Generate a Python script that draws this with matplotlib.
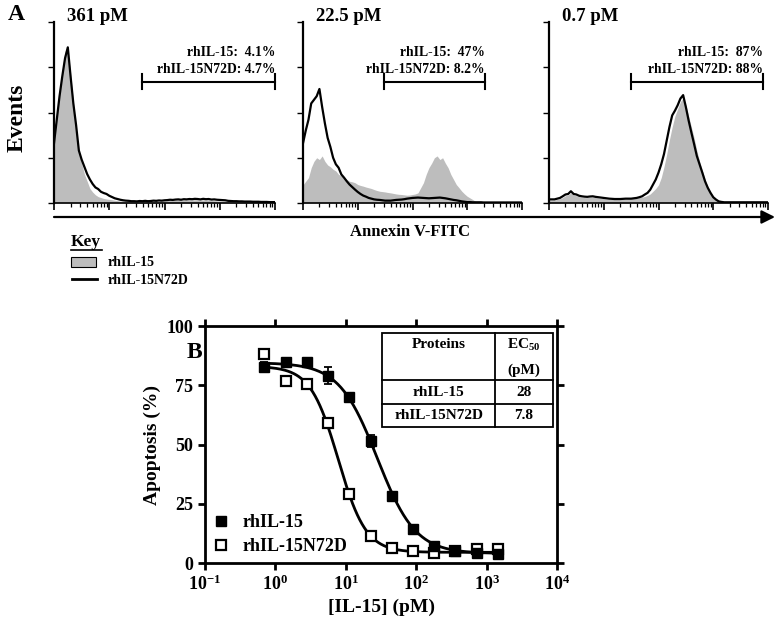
import numpy as np
import matplotlib
matplotlib.use('Agg')
import matplotlib.pyplot as plt
from matplotlib.patches import Rectangle
from matplotlib.lines import Line2D
from matplotlib.ticker import LogLocator, NullLocator, FixedLocator

plt.rcParams['font.family'] = ['Liberation Serif', 'DejaVu Serif']
plt.rcParams['font.weight'] = 'bold'
plt.rcParams['axes.labelweight'] = 'bold'
plt.rcParams['mathtext.default'] = 'regular'

# ---------------- panel A : flow histograms (Annexin V-FITC, 4 log decades)
panel_titles = ['361 pM', '22.5 pM', '0.7 pM']
log_channel = np.arange(81) * 0.05          # channel position in log10 decades

hist_wt = [  # rhIL-15 (grey fill), % of axis height
    [38, 48, 62, 74, 84, 84, 72, 56, 40, 28,
     22, 16, 12, 8, 6, 4.5, 3.5, 3, 2.5, 2.2,
     2, 1.8, 1.5, 1.3, 1.1, 1.0, 0.9, 0.8, 0.8, 0.7,
     0.7, 0.8, 0.7, 0.8, 0.8, 0.9, 0.9, 1.0, 1.0, 1.1,
     1.2, 1.3, 1.4, 1.4, 1.5, 1.6, 1.5, 1.7, 1.6, 1.8,
     1.7, 1.8, 1.7, 1.6, 1.7, 1.6, 1.5, 1.4, 1.3, 1.2,
     1.1, 1.0, 0.9, 0.8, 0.7, 0.6, 0.6, 0.5, 0.5, 0.5,
     0.4, 0.4, 0.4, 0.4, 0.3, 0.3, 0.3, 0.3, 0.3, 0.3, 0.3],
    [10, 12, 14, 19.5, 23, 25, 24, 26, 23, 21,
     20, 18.6, 17.7, 15.8, 15, 14, 13, 12, 11.7, 11.2,
     10.2, 9.7, 9.3, 8.8, 8.4, 8, 7.4, 6.9, 6.5, 6.3,
     6.1, 5.8, 5.6, 5.3, 5.0, 4.8, 4.7, 4.5, 4.3, 4.4,
     4.7, 5.0, 5.6, 8.4, 11.2, 15.8, 19.5, 22, 25, 26,
     24, 25, 22, 19.5, 15.8, 13, 10.2, 8.4, 6.5, 5,
     3.7, 2.8, 1.9, 0.9, 0.3, 0.3, 0.3, 0.3, 0.3, 0.3,
     0.3, 0.3, 0.3, 0.3, 0.3, 0.3, 0.3, 0.3, 0.3, 0.3, 0.3],
    [1.5, 1.5, 1.6, 2, 2.4, 3, 4, 4.5, 5.5, 4.5,
     4, 3.5, 3.2, 3, 3, 3.2, 3.2, 3, 2.8, 2.6,
     2.4, 2.2, 2, 2, 2, 2, 2.1, 2.2, 2.2, 2.3,
     2.4, 2.6, 2.8, 3, 3.2, 3.6, 4.2, 5, 6.5, 8,
     10, 14, 20, 27, 35, 42, 48, 52, 56, 58,
     54, 48, 42, 36, 29, 23, 18, 13, 9, 6,
     3.5, 2, 1, 0.5, 0.3, 0.3, 0.3, 0.3, 0.3, 0.3,
     0.3, 0.3, 0.3, 0.3, 0.3, 0.3, 0.3, 0.3, 0.3, 0.3, 0.3],
]
hist_mut = [  # rhIL-15N72D (black line)
    [33, 46, 59, 70, 80, 86, 70, 55, 43, 29,
     24, 20, 16, 13, 10.5, 8.6, 7.7, 6.2, 5.5, 5,
     4, 3.3, 2.6, 2.2, 1.8, 1.5, 1.3, 1.2, 1.0, 1.0,
     0.9, 1.1, 1.0, 1.2, 1.0, 1.1, 1.3, 1.2, 1.4, 1.3,
     1.5, 1.6, 1.8, 1.7, 1.9, 2.0, 1.8, 2.1, 2.0, 2.2,
     2.1, 2.3, 2.2, 2.0, 2.3, 2.1, 2.2, 1.9, 2.0, 1.8,
     1.7, 1.6, 1.5, 1.2, 1.1, 1.0, 1.0, 0.9, 0.9, 0.8,
     0.8, 0.8, 0.7, 0.7, 0.7, 0.6, 0.6, 0.6, 0.5, 0.5, 0.5],
    [33, 40, 46, 55, 57, 59, 63, 53, 44, 36,
     31, 25, 21.4, 19.5, 15.8, 14, 12, 10.2, 8.8, 7.4,
     6.1, 5, 4.1, 3.5, 2.8, 2.4, 2.0, 1.8, 1.7, 1.5,
     1.3, 1.3, 1.3, 1.5, 1.7, 1.8, 1.9, 2.1, 2.4, 2.6,
     2.8, 2.9, 3.0, 2.9, 2.8, 2.7, 2.6, 2.7, 2.8, 2.9,
     3.0, 2.8, 2.6, 2.3, 2.0, 1.7, 1.5, 1.2, 0.9, 0.7,
     0.5, 0.5, 0.4, 0.4, 0.4, 0.4, 0.3, 0.3, 0.3, 0.3,
     0.3, 0.3, 0.3, 0.3, 0.3, 0.3, 0.3, 0.3, 0.3, 0.3, 0.3],
    [2, 2, 2, 2.4, 2.8, 3.7, 4.7, 5, 6.5, 5,
     4.7, 4, 3.7, 3.5, 3.4, 3.6, 3.7, 3.4, 3.2, 3.0,
     2.8, 2.6, 2.4, 2.3, 2.2, 2.2, 2.2, 2.3, 2.4, 2.4,
     2.4, 2.6, 2.8, 3.2, 3.7, 4.7, 5.6, 7.4, 10.2, 13,
     16.8, 21.4, 27, 34.5, 42, 48.4, 51, 54, 57.7, 59.6,
     53, 45.6, 39, 32.6, 26, 21.4, 16.8, 12, 8.4, 5.6,
     3.2, 1.9, 0.9, 0.6, 0.4, 0.4, 0.4, 0.4, 0.4, 0.4,
     0.4, 0.4, 0.4, 0.4, 0.4, 0.4, 0.4, 0.4, 0.4, 0.4, 0.4],
]
gate_lo = [1.6, 1.48, 1.49]     # gate bracket, log10 decades
gate_hi = [4.0, 3.32, 3.91]
pct_wt = ['4.1%', '47%', '87%']
pct_mut = ['4.7%', '8.2%', '88%']

# ---------------- panel B : dose response
conc_pM = [0.7, 1.4, 2.8, 5.6, 11.25, 22.5, 45, 90, 180, 361, 722, 1444]
apop_wt = [82.9, 84.6, 84.6, 79, 70, 51.3, 28.4, 14.3, 7.3, 4.9, 4.2, 3.9]
apop_wt_err = [2, 1, 1, 3.5, 1, 2.5, 1, 1, 0.8, 0.5, 0.5, 0.5]
apop_mut = [88.2, 77, 75.6, 59, 29.2, 11.5, 6.3, 4.9, 4.2, 4.9, 5.9, 5.9]
# 4-parameter logistic fits: top, bottom, EC50, hill
fit_wt = (84.5, 4.0, 28, 1.6)
fit_mut = (83, 4.5, 7.8, 2.2)
tbl_proteins = ['rhIL-15', 'rhIL-15N72D']
tbl_ec50 = ['28', '7.8']

W, H = 775, 630
fig = plt.figure(figsize=(W / 100, H / 100), dpi=100)


def px_axes(l, t, r, b):
    return fig.add_axes([l / W, 1 - b / H, (r - l) / W, (b - t) / H])


def logistic(x, top, bottom, ec50, hill):
    return bottom + (top - bottom) / (1 + (x / ec50) ** hill)


xs = 10 ** log_channel
for i, (l, r) in enumerate([(54, 275), (303, 522), (549, 768)]):
    ax = px_axes(l, 22, r, 203)
    ax.fill_between(xs, hist_wt[i], color='#bdbdbd', lw=0)
    ax.plot(xs, hist_mut[i], color='k', lw=1.6)
    ax.set_xscale('log')
    ax.set_xlim(1, 1e4)
    ax.set_ylim(0, 100)
    for s in ['top', 'right']:
        ax.spines[s].set_visible(False)
    ax.spines['left'].set_linewidth(1.6)
    ax.spines['bottom'].set_linewidth(1.2)
    ax.set_yticks([0, 25, 50, 75, 100])
    ax.set_yticklabels([])
    ax.xaxis.set_minor_locator(LogLocator(subs=range(2, 10)))
    ax.tick_params(axis='y', direction='out', length=4, width=1)
    ax.tick_params(axis='x', which='major', direction='out', length=5, width=1.2,
                   labelbottom=False)
    ax.tick_params(axis='x', which='minor', direction='out', length=3, width=0.9)
    ax.text(0.06, 0.983, panel_titles[i], transform=ax.transAxes, fontsize=13.5,
            va='bottom', ha='left')
    # gate bracket
    g0, g1 = 10 ** gate_lo[i], 10 ** gate_hi[i]
    gy = 67
    ax.plot([g0, g1], [gy, gy], color='k', lw=1.5, clip_on=False)
    ax.plot([g0, g0], [gy - 4, gy + 4], color='k', lw=1.5, clip_on=False)
    ax.plot([g1, g1], [gy - 4, gy + 4], color='k', lw=1.5, clip_on=False)
    ax.text(g1, 83, 'rhIL-15:  ' + pct_wt[i], ha='right', va='center', fontsize=9.8)
    ax.text(g1, 74, 'rhIL-15N72D: ' + pct_mut[i], ha='right', va='center', fontsize=9.8)

# overlay for labels / key
ov = fig.add_axes([0, 0, 1, 1])
ov.set_xlim(0, W)
ov.set_ylim(H, 0)
ov.axis('off')
ov.annotate('', xy=(775, 217), xytext=(54, 217),
            arrowprops=dict(arrowstyle='-|>', lw=1.6, color='k', mutation_scale=20,
                            shrinkA=0, shrinkB=0))
ov.text(410, 232, 'Annexin V-FITC', ha='center', va='center', fontsize=12)
ov.text(17, 118, 'Events', ha='center', va='center', rotation=90, fontsize=17)
ov.text(16, 15, 'A', ha='center', va='center', fontsize=17)
ov.text(194, 353, 'B', ha='center', va='center', fontsize=17)
ov.text(71, 242, 'Key', ha='left', va='center', fontsize=12.5)
ov.plot([71, 102], [250, 250], color='k', lw=1.2)
ov.add_patch(Rectangle((71, 257), 25, 10, facecolor='#bdbdbd', edgecolor='k', lw=0.8))
ov.plot([72, 97], [279, 279], color='k', lw=2)
ov.text(108, 262, 'rhIL-15', ha='left', va='center', fontsize=10)
ov.text(108, 280, 'rhIL-15N72D', ha='left', va='center', fontsize=10)

# ---------------- panel B axes
axB = px_axes(205, 326, 557, 563)
xfit = np.logspace(np.log10(conc_pM[0]), np.log10(conc_pM[-1]), 300)
axB.plot(xfit, logistic(xfit, *fit_wt), color='k', lw=2)
axB.plot(xfit, logistic(xfit, *fit_mut), color='k', lw=2)
axB.errorbar(conc_pM, apop_wt, yerr=apop_wt_err, fmt='s', color='k', ms=7,
             elinewidth=1.3, capsize=3, capthick=1.3)
axB.plot(conc_pM, apop_mut, 's', mfc='white', mec='k', mew=1.6, ms=7.5)
axB.set_xscale('log')
axB.set_xlim(0.1, 1e4)
axB.set_ylim(0, 100)
axB.xaxis.set_major_locator(FixedLocator([0.1, 1, 10, 100, 1000, 10000]))
axB.xaxis.set_minor_locator(NullLocator())
axB.set_xticklabels(['$10^{-1}$', '$10^{0}$', '$10^{1}$', '$10^{2}$', '$10^{3}$', '$10^{4}$'])
axB.set_yticks([0, 25, 50, 75, 100])
for s in axB.spines.values():
    s.set_linewidth(2)
axB.tick_params(which='major', direction='out', length=5, width=2, top=True, right=True,
                labelsize=13)
axB.set_xlabel('[IL-15] (pM)', fontsize=14, labelpad=3)
axB.set_ylabel('Apoptosis (%)', fontsize=14, labelpad=4)

handles = [Line2D([], [], ls='', marker='s', color='k', ms=7),
           Line2D([], [], ls='', marker='s', mfc='white', mec='k', mew=1.6, ms=7.5)]
axB.legend(handles, ['rhIL-15', 'rhIL-15N72D'], loc='lower left',
           bbox_to_anchor=(-0.01, -0.02), frameon=False, fontsize=13, handlelength=0.8,
           handletextpad=0.8, labelspacing=0.4, borderaxespad=0.3)

# EC50 table
tx = [0.503, 0.824, 0.989]
ty = [0.970, 0.772, 0.671, 0.574]
tr = axB.transAxes
axB.add_patch(Rectangle((tx[0], ty[3]), tx[2] - tx[0], ty[0] - ty[3], transform=tr,
                        facecolor='white', edgecolor='k', lw=1.3, zorder=5))
axB.plot([tx[1], tx[1]], [ty[3], ty[0]], color='k', lw=1.3, transform=tr, zorder=6)
for yy in ty[1:3]:
    axB.plot([tx[0], tx[2]], [yy, yy], color='k', lw=1.3, transform=tr, zorder=6)
c0 = (tx[0] + tx[1]) / 2
c1 = (tx[1] + tx[2]) / 2
axB.text(c0, 0.92, 'Proteins', transform=tr, ha='center', va='center', fontsize=11, zorder=7)
axB.text(c1, 0.92, 'EC$_{50}$', transform=tr, ha='center', va='center', fontsize=11, zorder=7)
axB.text(c1, 0.815, '(pM)', transform=tr, ha='center', va='center', fontsize=11, zorder=7)
for k in range(2):
    yc = (ty[k + 1] + ty[k + 2]) / 2
    axB.text(c0, yc, tbl_proteins[k], transform=tr, ha='center', va='center', fontsize=11, zorder=7)
    axB.text(c1, yc, tbl_ec50[k], transform=tr, ha='center', va='center', fontsize=11, zorder=7)

fig.savefig('out.png', dpi=100)
